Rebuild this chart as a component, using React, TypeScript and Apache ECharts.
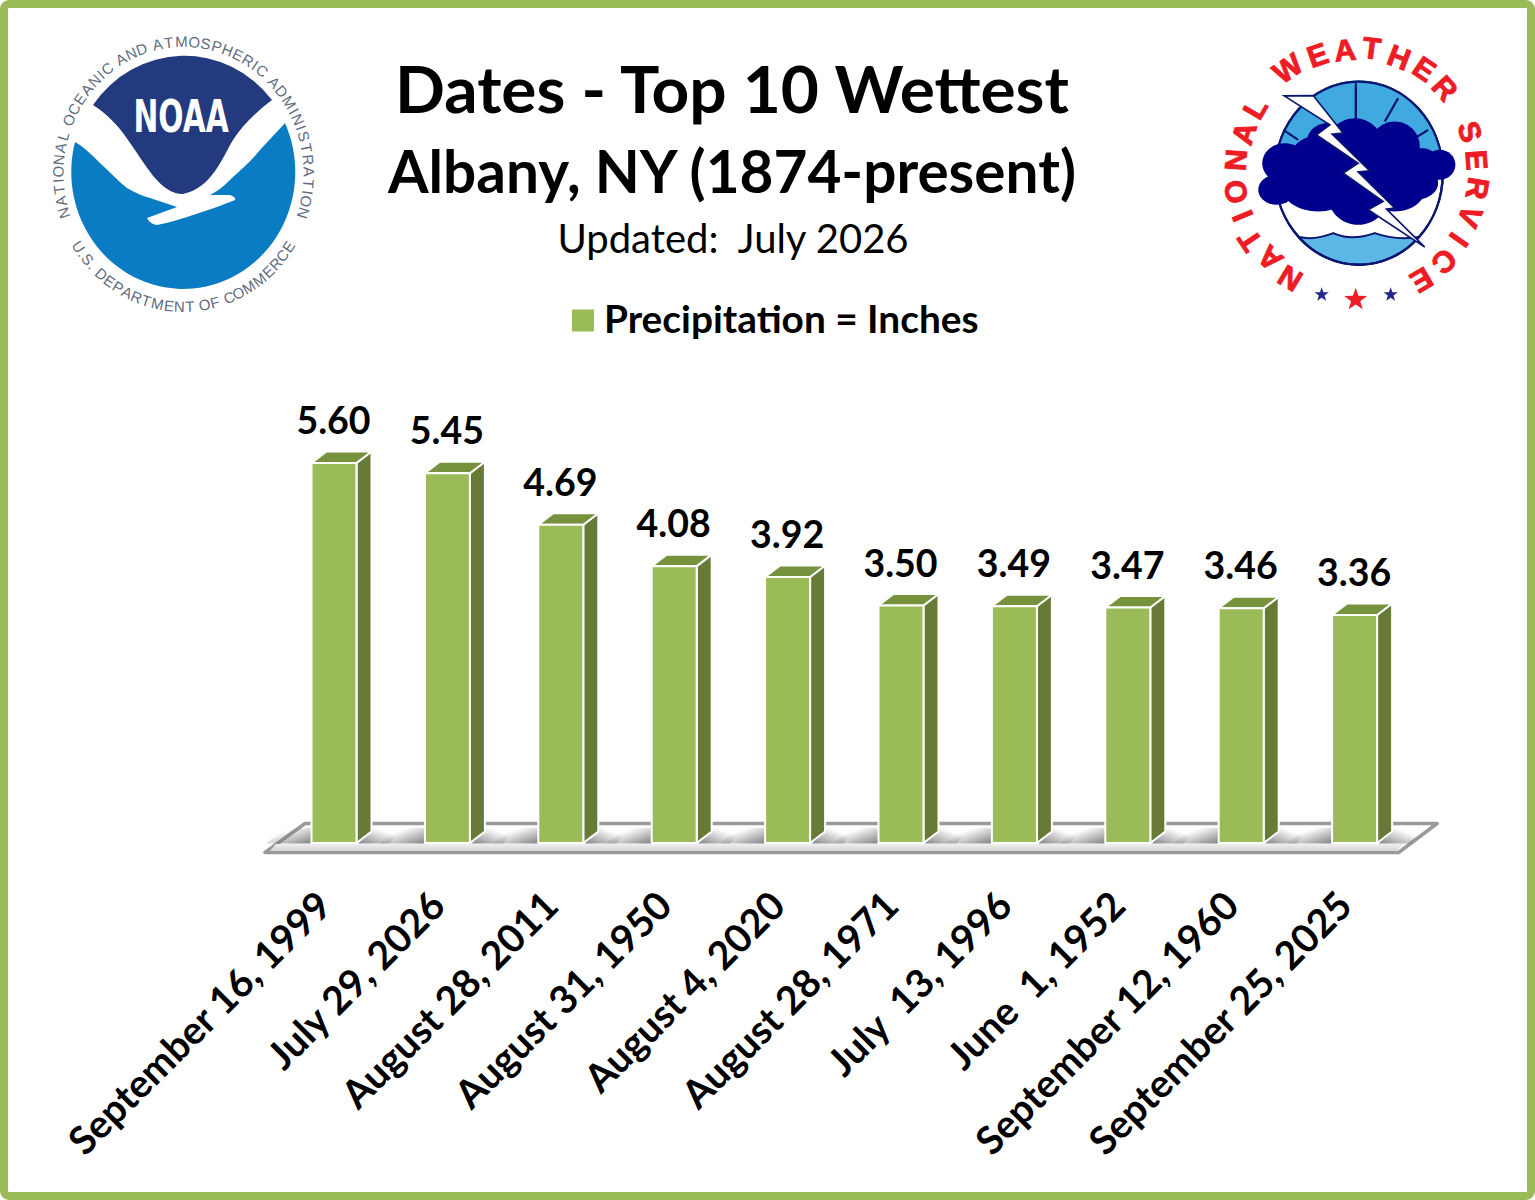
import React, { useEffect, useRef } from "react";
import * as echarts from "echarts";

const categories = [
  "September 16, 1999",
  "July 29, 2026",
  "August 28, 2011",
  "August 31, 1950",
  "August 4, 2020",
  "August 28, 1971",
  "July  13, 1996",
  "June  1, 1952",
  "September 12, 1960",
  "September 25, 2025",
];
const precipitation = [5.6, 5.45, 4.69, 4.08, 3.92, 3.5, 3.49, 3.47, 3.46, 3.36];
const seriesName = "Precipitation = Inches";

const FONT = "Lato, Carlito, Calibri, sans-serif";
const ARIAL = "'Liberation Sans', Arial, sans-serif";
const FRONT = "#9BBB59";
const SIDE = "#677B37";
const TOP = "#76923C";

const reg = (name: string, d: string) =>
  echarts.graphic.registerShape(name, echarts.graphic.extendPath(d, {}) as any);

reg(
  "noaaDark",
  "M93,105 A112,117 0 0 1 272,100 C255,113 243,125 233,140 C222,158 212,188 183,194 C160,194 146,165 128,140 C118,125 106,113 93,105 Z"
);
reg(
  "noaaBlue",
  "M285,123 A112,117 0 1 1 75,142 C84,147 92,155 100,163 C110,172 118,181 127,188 C134,192 142,196 150,198 L177,207 L147,218 Q150,224 157,225 C168,223 177,220 187,217 C197,214 207,210 217,207 L235,200 Q236,197 230,195 L210,195 C220,190 226,184 233,177 C243,168 252,160 260,150 C268,141 277,132 285,123 Z"
);
reg("nwsSky", "M250,440 A252,275 0 0 1 734,440 L734,540 L250,540 Z");
reg(
  "nwsWater",
  "M312,712 Q360,722 415,700 Q470,725 540,700 Q600,722 672,712 A252,275 0 0 1 312,712 Z"
);
reg(
  "nwsBolt",
  "M268,288 L355,287 L445,400 L412,403 L525,513 L490,516 L600,625 L575,628 L690,742 L520,630 L565,605 L445,520 L490,490 L365,405 L405,375 Z"
);

function textEl(text: string, x: number, y: number, fontSize: number, fill: string, rotation = 0, extra: any = {}) {
  return {
    type: "text",
    x,
    y,
    rotation,
    silent: true,
    style: {
      text,
      fontSize,
      fontFamily: ARIAL,
      fill,
      align: "center",
      verticalAlign: "middle",
      ...extra,
    },
  };
}

function ringText(
  str: string,
  cx: number,
  cy: number,
  rx: number,
  ry: number,
  start: number,
  end: number,
  fontSize: number,
  fill: string,
  flip: boolean
) {
  const weight = (c: string) => (c === " " || c === "." || c === "," ? 0.45 : c === "I" ? 0.5 : c === "M" ? 1.25 : 1);
  const total = str.split("").reduce((s, c) => s + weight(c), 0);
  let acc = 0;
  const out: any[] = [];
  for (const c of str) {
    const w = weight(c);
    const t = (acc + w / 2) / total;
    acc += w;
    if (c === " ") continue;
    const deg = start + (end - start) * t;
    const th = (deg * Math.PI) / 180;
    out.push(
      textEl(c, cx + rx * Math.sin(th), cy - ry * Math.cos(th), fontSize, fill, -th + (flip ? Math.PI : 0))
    );
  }
  return out;
}

function star(cx: number, cy: number, r: number, fill: string) {
  const points: number[][] = [];
  for (let i = 0; i < 10; i++) {
    const a = (i * Math.PI) / 5;
    const rr = i % 2 ? r * 0.4 : r;
    points.push([cx + rr * Math.sin(a), cy - rr * Math.cos(a)]);
  }
  return { type: "polygon", silent: true, shape: { points }, style: { fill } };
}

// [letter, x, y] as positions around the seal, measured in a 3x crop of the logo
const nwsLetters: [string, number, number][] = [
  ["N", 285, 835], ["A", 225, 775], ["T", 165, 722], ["I", 142, 648], ["O", 122, 575], ["N", 122, 480], ["A", 147, 400], ["L", 180, 325],
  ["W", 278, 205], ["E", 368, 165], ["A", 450, 150], ["T", 530, 145], ["H", 612, 172], ["E", 688, 207], ["R", 750, 265],
  ["S", 825, 395], ["E", 845, 480], ["R", 848, 565], ["V", 825, 650], ["I", 792, 720], ["C", 748, 785], ["E", 680, 840],
];

function noaaLogo() {
  const grey = "#5f6b80";
  return [
    ...ringText("NATIONAL OCEANIC AND ATMOSPHERIC ADMINISTRATION", 183.5, 173.5, 125.5, 132, -110, 110, 15, grey, false),
    ...ringText("U.S. DEPARTMENT OF COMMERCE", 183.5, 173.5, 125.5, 133, -121, -239, 15, grey, true),
    { type: "noaaDark", silent: true, style: { fill: "#233A7E" } },
    { type: "noaaBlue", silent: true, style: { fill: "#0A7CC4" } },
    {
      type: "text",
      x: 181,
      y: 117,
      scaleX: 0.66,
      silent: true,
      style: {
        text: "NOAA",
        fontSize: 45,
        fontWeight: "bold",
        fontFamily: "'DejaVu Sans', sans-serif",
        fill: "#ffffff",
        align: "center",
        verticalAlign: "middle",
      },
    },
  ];
}

function nwsLogo() {
  const navy = "#0A1570";
  const cloud = "#00008F";
  const lobes = [
    [245, 570, 55, 45], [270, 490, 68, 60], [360, 480, 75, 70], [480, 440, 85, 85], [600, 440, 75, 75],
    [680, 500, 60, 55], [735, 495, 47, 45], [370, 560, 110, 75], [490, 590, 90, 85], [600, 570, 90, 65],
    [660, 550, 70, 50], [490, 510, 190, 110], [395, 430, 60, 60],
  ];
  const dividers = [
    [483, 250, 483, 365], [610, 295, 570, 365], [700, 390, 660, 415], [265, 390, 310, 420],
  ];
  const marks = {
    type: "group",
    x: 1195,
    y: 0,
    scaleX: 1 / 3,
    scaleY: 1 / 3,
    silent: true,
    children: [
      { type: "ellipse", shape: { cx: 492, cy: 520, rx: 252, ry: 275 }, style: { fill: "#ffffff", stroke: navy, lineWidth: 7 } },
      { type: "nwsSky", style: { fill: "#3FA9E0" } },
      ...dividers.map(([x1, y1, x2, y2]) => ({
        type: "line",
        shape: { x1, y1, x2, y2 },
        style: { stroke: navy, lineWidth: 7 },
      })),
      { type: "nwsWater", style: { fill: "#5DB7E6", stroke: navy, lineWidth: 6 } },
      { type: "ellipse", shape: { cx: 492, cy: 520, rx: 252, ry: 275 }, style: { fill: "none", stroke: navy, lineWidth: 7 } },
      ...lobes.map(([cx, cy, rx, ry]) => ({
        type: "ellipse",
        shape: { cx, cy, rx, ry },
        style: { fill: cloud },
      })),
      { type: "nwsBolt", style: { fill: "#ffffff", stroke: navy, lineWidth: 5 } },
    ],
  };
  const cx = 485;
  const cy = 505;
  const letters = nwsLetters.map(([c, x, y]) => {
    const th = Math.atan2(x - cx, cy - y);
    return textEl(c, 1195 + x / 3, y / 3, 30, "#EE1C25", -th, {
      fontWeight: "bold",
      stroke: "#EE1C25",
      lineWidth: 1,
    });
  });
  return [
    marks,
    ...letters,
    star(1195 + 380 / 3, 884 / 3, 7.5, "#23288F"),
    star(1195 + 587 / 3, 884 / 3, 7.5, "#23288F"),
    star(1195 + 482 / 3, 899 / 3, 12, "#EE1C25"),
  ];
}

const BAR_W = 45;
const DX = 15;
const DY = -11.5;

function renderFloor(_: any, api: any) {
  const l = api.coord([0, 0]);
  const r = api.coord([categories.length - 1, 0]);
  const y = l[1];
  const pts = [
    [l[0] - 69, y + 9.5],
    [r[0] + 44, y + 9.5],
    [r[0] + 82.5, y - 19.5],
    [l[0] - 29, y - 19.5],
  ];
  return {
    type: "group",
    children: [
      { type: "polygon", shape: { points: pts }, style: { fill: "#ffffff", stroke: "#9A9A9A", lineWidth: 3.5, lineJoin: "round" } },
      {
        type: "polygon",
        shape: {
          points: [
            [l[0] - 64, y + 7.7],
            [r[0] + 42.5, y + 7.7],
            [r[0] + 48, y + 1],
            [l[0] - 58, y + 1],
          ],
        },
        style: {
          fill: {
            type: "linear",
            x: 0,
            y: 0,
            x2: 0,
            y2: 1,
            colorStops: [
              { offset: 0, color: "#EFEFEF" },
              { offset: 1, color: "#D6D6D6" },
            ],
          },
        },
      },
    ],
  };
}

function renderShadow(_: any, api: any) {
  const c = api.coord([api.value(0), 0]);
  const x = c[0];
  const y = c[1];
  const shade = (x0: number, y0: number, x1: number, y1: number, o: number) => ({
    type: "linear",
    x: x0,
    y: y0,
    x2: x1,
    y2: y1,
    colorStops: [
      { offset: 0, color: `rgba(105,105,105,${o})` },
      { offset: 0.75, color: "rgba(105,105,105,0)" },
      { offset: 1, color: "rgba(105,105,105,0)" },
    ],
  });
  return {
    type: "group",
    children: [
      {
        type: "polygon",
        shape: {
          points: [
            [x + 24, y + 0.5],
            [x + 56, y + 0.5],
            [x + 68, y - 15],
            [x + 38, y - 15],
          ],
        },
        style: { fill: shade(0.1, 1, 1, 0.2, 0.75) },
      },
      {
        type: "polygon",
        shape: {
          points: [
            [x - 68, y + 0.5],
            [x - 22, y + 0.5],
            [x - 22, y - 15],
            [x - 50, y - 15],
          ],
        },
        style: { fill: shade(1, 1, 0.05, 0.1, 0.85) },
      },
    ],
  };
}

function renderBar(params: any, api: any) {
  const idx = api.value(0);
  const val = api.value(1);
  const base = api.coord([idx, 0]);
  const top = api.coord([idx, val]);
  const xl = base[0] - BAR_W / 2;
  const xr = base[0] + BAR_W / 2;
  const stroke = { stroke: "#ffffff", lineWidth: 2, lineJoin: "round" };
  return {
    type: "group",
    children: [
      {
        type: "polygon",
        shape: {
          points: [
            [xr, top[1]],
            [xr + DX, top[1] + DY],
            [xr + DX, base[1] + DY],
            [xr, base[1]],
          ],
        },
        style: { fill: SIDE, ...stroke },
      },
      {
        type: "polygon",
        shape: {
          points: [
            [xl, top[1]],
            [xl + DX, top[1] + DY],
            [xr + DX, top[1] + DY],
            [xr, top[1]],
          ],
        },
        style: { fill: TOP, ...stroke },
      },
      {
        type: "rect",
        shape: { x: xl, y: top[1], width: BAR_W, height: base[1] - top[1] },
        style: { fill: FRONT, ...stroke },
      },
      {
        type: "text",
        x: base[0] - 0.5,
        y: top[1] - 43.5,
        style: {
          text: val.toFixed(2),
          fontFamily: FONT,
          fontWeight: "bold",
          fontSize: 37.5,
          fill: "#000000",
          align: "center",
          verticalAlign: "middle",
        },
      },
    ],
  };
}

export default function App() {
  const ref = useRef<HTMLDivElement>(null);
  useEffect(() => {
    document.body.style.margin = "0";
    const chart = echarts.init(ref.current!, undefined, { renderer: "svg" });
    const dataset = precipitation.map((v, i) => [i, v]);
    chart.setOption({
      animation: false,
      backgroundColor: "#ffffff",
      title: [
        {
          text: "Dates - Top 10 Wettest",
          left: 727,
          top: 49,
          textAlign: "center",
          textStyle: { fontFamily: FONT, fontWeight: "bold", fontSize: 65.8, color: "#000" },
        },
        {
          text: "Albany, NY (1874-present)",
          left: 727,
          top: 135,
          textAlign: "center",
          textStyle: { fontFamily: FONT, fontWeight: "bold", fontSize: 58.5, color: "#000" },
        },
        {
          text: "Updated:  July 2026",
          left: 728,
          top: 213,
          textAlign: "center",
          textStyle: { fontFamily: FONT, fontWeight: "normal", fontSize: 40, color: "#000" },
        },
      ],
      legend: {
        data: [{ name: seriesName }],
        left: 567,
        top: 293,
        icon: "path://M0,6 L22,6 L22,28 L0,28 Z M0,0 L0,0 Z",
        itemWidth: 22,
        itemHeight: 28,
        itemGap: 12,
        selectedMode: false,
        textStyle: { fontFamily: FONT, fontWeight: "bold", fontSize: 38.8, color: "#000", padding: [0, 0, 0, 5] },
      },
      grid: { left: 277.3, top: 435.86, width: 1134, height: 407.14 },
      xAxis: {
        type: "category",
        data: categories,
        axisLine: { show: false },
        axisTick: { show: false },
        axisLabel: {
          interval: 0,
          rotate: 45,
          margin: 44,
          padding: [0, 15, 0, 0],
          fontFamily: FONT,
          fontWeight: "bold",
          fontSize: 39,
          color: "#000",
        },
      },
      yAxis: { type: "value", min: 0, max: 6, show: false, splitLine: { show: false } },
      graphic: [
        {
          type: "rect",
          silent: true,
          shape: { x: 4, y: 4, width: 1527, height: 1192, r: 5 },
          style: { fill: "#ffffff", stroke: FRONT, lineWidth: 8 },
          z: -1,
        },
        ...noaaLogo(),
        ...nwsLogo(),
      ],
      series: [
        { type: "custom", name: "floor", renderItem: renderFloor, data: [[0]], silent: true, z: 1 },
        { type: "custom", name: "shadow", renderItem: renderShadow, data: dataset, silent: true, z: 2 },
        {
          type: "custom",
          name: seriesName,
          renderItem: renderBar,
          data: dataset,
          encode: { x: 0, y: 1 },
          itemStyle: { color: FRONT },
          z: 3,
        },
      ],
    });
    return () => chart.dispose();
  }, []);
  return <div ref={ref} style={{ width: 1535, height: 1200 }} />;
}
